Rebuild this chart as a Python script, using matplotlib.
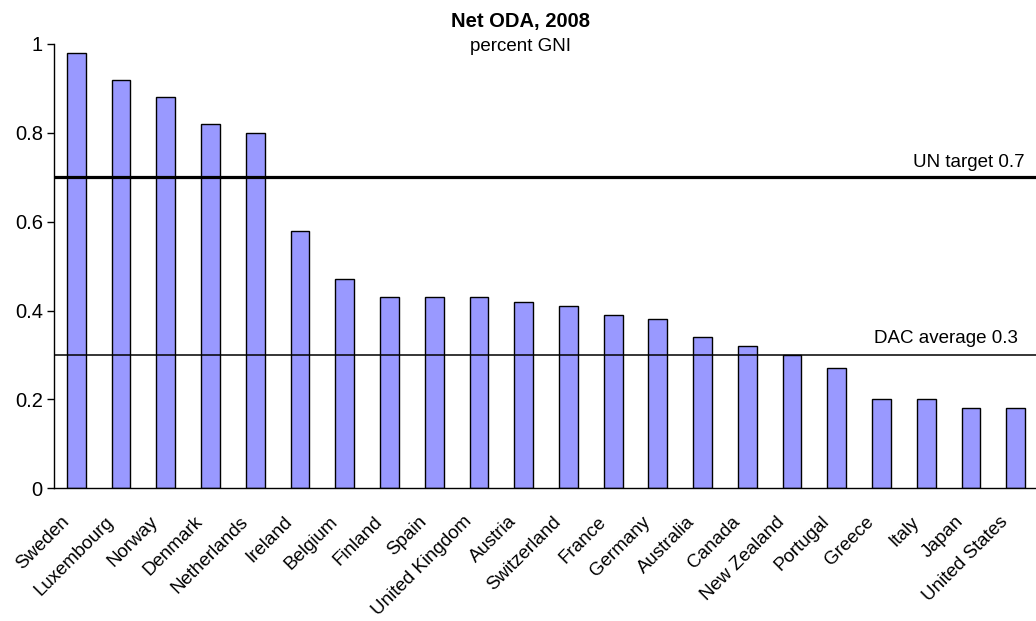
import matplotlib
matplotlib.use("Agg")
import matplotlib.pyplot as plt
import matplotlib.transforms as mtransforms

plt.rcParams['font.family'] = ['Liberation Sans', 'DejaVu Sans']

countries = ["Sweden", "Luxembourg", "Norway", "Denmark", "Netherlands", "Ireland",
             "Belgium", "Finland", "Spain", "United Kingdom", "Austria", "Switzerland",
             "France", "Germany", "Australia", "Canada", "New Zealand", "Portugal",
             "Greece", "Italy", "Japan", "United States"]
oda_pct_gni = [0.98, 0.92, 0.88, 0.82, 0.80, 0.58, 0.47, 0.43, 0.43, 0.43, 0.42,
               0.41, 0.39, 0.38, 0.34, 0.32, 0.30, 0.27, 0.20, 0.20, 0.18, 0.18]
un_target = 0.7
dac_average = 0.3
yticks = [0, 0.2, 0.4, 0.6, 0.8, 1]
ytick_labels = ["0", "0.2", "0.4", "0.6", "0.8", "1"]

fig = plt.figure(figsize=(10.36, 6.21), dpi=100)
ax = fig.add_axes([0.0521, 0.2137, 0.9499, 0.7155])

x = list(range(len(countries)))
ax.bar(x, oda_pct_gni, width=0.42, color="#9999FF", edgecolor="black", linewidth=1.0,
       zorder=2)

# Reference lines with their captions, right-aligned near the axes edge
ax.axhline(un_target, color="black", linewidth=2.3, zorder=3)
ax.axhline(dac_average, color="black", linewidth=1.1, zorder=3)
ax.annotate(f"UN target {un_target}", xy=(1, un_target),
            xycoords=("axes fraction", "data"), xytext=(-10, 7.5),
            textcoords="offset points", ha="right", va="baseline", fontsize=13.5)
ax.annotate(f"DAC average {dac_average}", xy=(1, dac_average),
            xycoords=("axes fraction", "data"), xytext=(-14.5, 8.5),
            textcoords="offset points", ha="right", va="baseline", fontsize=13.5)

ax.set_xlim(-0.5, len(countries) - 0.5)
ax.set_ylim(0, 1)
ax.set_yticks(yticks)
ax.set_yticklabels(ytick_labels, fontsize=14.5)
ax.set_xticks(x)
ax.set_xticklabels(countries, rotation=45, ha="right", va="top", rotation_mode="anchor",
                   fontsize=13.5)
ax.tick_params(axis="x", length=0, pad=10)
ax.tick_params(axis="y", length=5, width=1, direction="out", pad=3)

# Slide the slanted country names left and down so they hang under their bars
shift = mtransforms.ScaledTranslation(-0.16, -0.11, fig.dpi_scale_trans)
for lbl in ax.get_xticklabels():
    lbl.set_transform(lbl.get_transform() + shift)

for side in ("top", "right"):
    ax.spines[side].set_visible(False)
ax.spines["left"].set_linewidth(1)
ax.spines["bottom"].set_linewidth(1)

fig.text(0.502, 0.965, "Net ODA, 2008", ha="center", va="center", fontsize=14.5,
         fontweight="bold")
fig.text(0.502, 0.925, "percent GNI", ha="center", va="center", fontsize=13.5)

fig.savefig("out.png", dpi=100)
